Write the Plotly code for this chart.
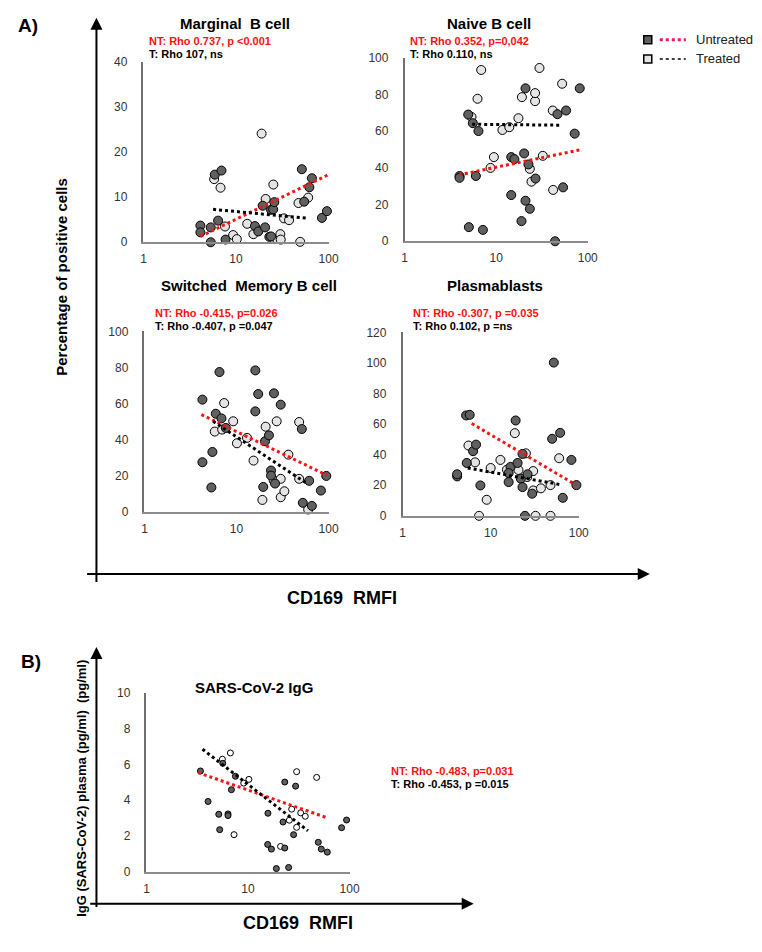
import plotly.graph_objects as go

# figure size and measured page->screenshot mapping (s = offset + k * figure_px)
W, H = 746, 936
KX, OX = 0.982, 9.6
KY, OY = 0.983, 16.2

# ---------------- data ----------------
# Marginal B cell
mz_nt_x = [4.12, 4.12, 5.33, 5.33, 5.9, 6.96, 6.4, 7.7, 16, 17.4, 20.6, 22.9, 23.9, 25.2, 25.9, 23.9, 19.4,
           51.4, 54.5, 66, 62, 84.7, 96]
mz_nt_y = [3.7, 2.2, 0.0, 3.3, 15.0, 15.9, 4.8, 0.6, 3.6, 2.4, 3.3, 1.2, 7.2, 7.3, 8.9, 1.3, 8.1,
           16.2, 9.0, 14.2, 12.2, 5.4, 6.9]
mz_t_x = [5.8, 6.8, 7.6, 9.3, 10.2, 13.2, 15.4, 18.9, 20.9, 25.3, 27.7, 30.1, 30.4, 33, 37.4, 47.3, 49.3, 60.2]
mz_t_y = [14.0, 12.1, 3.5, 1.6, 0.7, 4.1, 1.8, 24.1, 9.6, 12.8, 0.7, 1.8, 0.6, 5.3, 4.9, 8.7, 0.1, 9.9]
mz_trend_nt_x = [4.12, 100]
mz_trend_nt_y = [1.3, 15.0]
mz_trend_t_x = [5.65, 60.7]
mz_trend_t_y = [7.3, 5.3]

# Naive B cell
nv_nt_x = [3.98, 3.98, 5.03, 4.95, 5.56, 6.0, 6.4, 7.16, 14.6, 14.6, 15.8, 18.9, 20.2, 20.9, 20.9, 22.5, 23.3,
           26.9, 44, 46.7, 53.8, 58, 72, 81.8]
nv_nt_y = [35.6, 34.6, 7.7, 69.1, 64.4, 35.6, 60.1, 6.2, 45.9, 25.2, 44.8, 11.0, 47.9, 83.4, 22.1, 41.9, 17.7,
           34.2, 0.0, 69.3, 29.4, 71.3, 58.7, 83.4]
nv_t_x = [5.38, 6.25, 6.86, 8.67, 9.44, 11.7, 13.9, 17.5, 19.1, 23.3, 24.3, 26.6, 26.6, 29.7, 32.3, 41.9, 41.5, 52.5]
nv_t_y = [67.8, 77.7, 93.4, 40.0, 45.9, 60.7, 62.2, 67.1, 78.6, 39.5, 32.5, 76.4, 80.8, 94.5, 46.6, 28.0, 71.3, 85.9]
nv_trend_nt_x = [3.92, 83]
nv_trend_nt_y = [36.2, 49.9]
nv_trend_t_x = [5.47, 50.3]
nv_trend_t_y = [63.8, 63.3]

# Switched Memory B cell
sm_nt_x = [4.26, 4.26, 5.33, 5.47, 5.95, 6.53, 6.86, 7.65, 16, 16, 17.2, 19.5, 20.4, 22.5, 23.7, 23.7, 25.5,
           26.2, 30.2, 51.2, 52.5, 61.5, 65.8, 82.5, 94.4]
sm_nt_y = [62.2, 27.5, 13.5, 33.2, 54.4, 77.5, 51.8, 46.5, 55.7, 78.4, 65.3, 13.8, 39.1, 42.4, 22.9, 20.1, 65.7,
           15.7, 59.4, 45.9, 5.0, 17.2, 3.3, 11.8, 19.9]
sm_t_x = [5.8, 6.98, 7.34, 9.2, 10.1, 13, 15.3, 19.1, 20.7, 25.3, 27.3, 30.2, 30.2, 33.1, 36.6, 47.9, 47.9, 60]
sm_t_y = [44.5, 45.6, 60.3, 50.2, 38.0, 41.0, 28.4, 6.6, 47.2, 17.5, 50.2, 18.3, 8.1, 11.4, 31.7, 49.8, 18.3, 1.3]
sm_trend_nt_x = [4.15, 95.9]
sm_trend_nt_y = [53.9, 20.3]
sm_trend_t_x = [5.56, 56.6]
sm_trend_t_y = [50.2, 16.1]

# Plasmablasts
pb_nt_x = [4.16, 4.16, 5.26, 5.78, 5.35, 6.31, 6.82, 7.64, 16, 16.8, 16, 19.2, 20.2, 22, 23, 23, 24.5, 26.2,
           29.6, 49.9, 52.1, 61.5, 65.9, 82.6, 94.1]
pb_nt_y = [25.8, 27.2, 65.7, 66.1, 34.6, 42.3, 46.6, 19.9, 22.1, 32.0, 28.0, 62.4, 34.6, 24.3, 18.8, 40.5, 0.0,
           27.2, 14.5, 50.4, 100.3, 54.3, 11.8, 36.6, 20.1]
pb_t_x = [5.59, 6.65, 7.38, 9.01, 10, 12.9, 15.3, 18.8, 20.7, 25.1, 26, 30.4, 30.4, 32.3, 37.2, 47.8, 47.8, 59.9]
pb_t_y = [46.0, 35.0, 0.0, 10.5, 31.3, 36.6, 30.2, 54.1, 30.0, 40.9, 25.4, 29.3, 16.6, 0.0, 18.0, 0.0, 20.1, 37.7]
pb_trend_nt_x = [6.09, 94]
pb_trend_nt_y = [60.4, 20.1]
pb_trend_t_x = [5.49, 62.5]
pb_trend_t_y = [31.3, 20.4]

# SARS-CoV-2 IgG
ig_nt_x = [3.4, 4.04, 5.15, 5.26, 5.64, 6.35, 6.35, 6.86, 7.51, 15.7, 15.6, 17, 19, 22.1, 23, 23, 25.1, 28.1,
           29.4, 49.2, 52.6, 60.3, 83.4, 93.4]
ig_nt_y = [5.64, 3.93, 3.21, 2.35, 6.07, 3.23, 3.14, 4.59, 5.34, 3.27, 1.52, 1.26, 0.17, 2.78, 5.02, 1.32, 0.23,
           2.07, 4.79, 1.64, 1.26, 1.09, 2.46, 2.89]
ig_t_x = [5.59, 6.7, 7.28, 9.06, 10.2, 20.9, 25.5, 26.9, 30.1, 30.1, 33, 36.6, 47.4]
ig_t_y = [6.30, 6.65, 2.07, 4.96, 5.17, 1.41, 2.88, 3.5, 5.6, 2.48, 3.29, 3.1, 5.28]
ig_trend_nt_x = [3.22, 59]
ig_trend_nt_y = [5.55, 3.03]
ig_trend_t_x = [3.56, 38.9]
ig_trend_t_y = [6.86, 2.29]

x_tick_vals = [1, 10, 100]
x_tick_text = ["1", "10", "100"]

titles = ["Marginal  B cell", "Naive B cell", "Switched  Memory B cell", "Plasmablasts", "SARS-CoV-2 IgG"]
nt_texts = ["NT: Rho 0.737, p <0.001", "NT: Rho 0.352, p=0,042", "NT: Rho -0.415, p=0.026",
            "NT: Rho -0.307, p =0.035", "NT: Rho -0.483, p=0.031"]
t_texts = ["T: Rho 107, ns", "T: Rho 0.110, ns", "T: Rho -0.407, p =0.047",
           "T: Rho 0.102, p =ns", "T: Rho -0.453, p =0.015"]

# ---------------- layout helpers ----------------
FONT = "Arial, Liberation Sans, sans-serif"
DARK = "#606060"
LIGHT = "#e4e4e4"
RED = "#ff1010"


def px(p):
    return ((p - OX) / KX) / W


def py(p):
    return 1 - ((p - OY) / KY) / H


# target pixel boxes: (left, right, top, bottom)
panels = [
    dict(box=(142, 327, 63, 243), ymax=40, dtick=10, ms=9,
         nt=(mz_nt_x, mz_nt_y), t=(mz_t_x, mz_t_y),
         tr_nt=(mz_trend_nt_x, mz_trend_nt_y), tr_t=(mz_trend_t_x, mz_trend_t_y),
         title_xy=(233, 25), ann_xy=(146, 42), light=LIGHT),
    dict(box=(403, 586, 59, 242), ymax=100, dtick=20, ms=9,
         nt=(nv_nt_x, nv_nt_y), t=(nv_t_x, nv_t_y),
         tr_nt=(nv_trend_nt_x, nv_trend_nt_y), tr_t=(nv_trend_t_x, nv_trend_t_y),
         title_xy=(487, 25), ann_xy=(406, 42), light=LIGHT),
    dict(box=(143, 327, 332, 512), ymax=100, dtick=20, ms=9,
         nt=(sm_nt_x, sm_nt_y), t=(sm_t_x, sm_t_y),
         tr_nt=(sm_trend_nt_x, sm_trend_nt_y), tr_t=(sm_trend_t_x, sm_trend_t_y),
         title_xy=(247, 286), ann_xy=(152, 314), light=LIGHT),
    dict(box=(401, 577, 333, 516), ymax=120, dtick=20, ms=9,
         nt=(pb_nt_x, pb_nt_y), t=(pb_t_x, pb_t_y),
         tr_nt=(pb_trend_nt_x, pb_trend_nt_y), tr_t=(pb_trend_t_x, pb_trend_t_y),
         title_xy=(493, 286), ann_xy=(409, 314), light=LIGHT),
    dict(box=(145, 348, 693, 871), ymax=10, dtick=2, ms=6,
         nt=(ig_nt_x, ig_nt_y), t=(ig_t_x, ig_t_y),
         tr_nt=(ig_trend_nt_x, ig_trend_nt_y), tr_t=(ig_trend_t_x, ig_trend_t_y),
         title_xy=(252, 687), ann_xy=(387, 771), light="#ffffff"),
]

fig = go.Figure()
layout = dict(width=W, height=H, margin=dict(l=0, r=0, t=0, b=0),
              paper_bgcolor="white", plot_bgcolor="white", showlegend=False,
              font=dict(family=FONT, color="#000"))
annotations = []
shapes = []

for i, p in enumerate(panels):
    n = i + 1
    xa = "x" if n == 1 else f"x{n}"
    ya = "y" if n == 1 else f"y{n}"
    l, r, t, b = p["box"]
    layout["xaxis" if n == 1 else f"xaxis{n}"] = dict(
        type="log", range=[0, 2], domain=[px(l), px(r)], anchor=ya,
        tickvals=x_tick_vals, ticktext=x_tick_text, showgrid=False, zeroline=False,
        showline=True, linecolor="#8c8c8c", linewidth=1.5, ticks="",
        ticklabelstandoff=5, tickfont=dict(size=12, color="#333", family=FONT))
    layout["yaxis" if n == 1 else f"yaxis{n}"] = dict(
        range=[0, p["ymax"]], domain=[py(b), py(t)], anchor=xa, dtick=p["dtick"],
        showgrid=False, zeroline=False, showline=True, linecolor="#707070", linewidth=1.5,
        ticks="", ticklabelstandoff=12, tickfont=dict(size=12, color="#333", family=FONT))

    fig.add_trace(go.Scatter(x=p["t"][0], y=p["t"][1], mode="markers", xaxis=xa, yaxis=ya,
                             cliponaxis=False,
                             marker=dict(size=p["ms"], color=p["light"], line=dict(color="#000", width=1))))
    fig.add_trace(go.Scatter(x=p["nt"][0], y=p["nt"][1], mode="markers", xaxis=xa, yaxis=ya,
                             cliponaxis=False,
                             marker=dict(size=p["ms"], color=DARK, line=dict(color="#000", width=1))))
    fig.add_trace(go.Scatter(x=p["tr_nt"][0], y=p["tr_nt"][1], mode="lines", xaxis=xa, yaxis=ya,
                             cliponaxis=False, line=dict(color=RED, width=3, dash="dot")))
    fig.add_trace(go.Scatter(x=p["tr_t"][0], y=p["tr_t"][1], mode="lines", xaxis=xa, yaxis=ya,
                             cliponaxis=False, line=dict(color="#000", width=3, dash="dot")))

    tx, ty = p["title_xy"]
    annotations.append(dict(x=px(tx), y=py(ty), xref="paper", yref="paper", text=f"<b>{titles[i]}</b>",
                            showarrow=False, xanchor="center", yanchor="middle",
                            font=dict(size=15, color="#000", family=FONT)))
    ax_, ay_ = p["ann_xy"]
    annotations.append(dict(x=px(ax_), y=py(ay_), xref="paper", yref="paper", text=f"<b>{nt_texts[i]}</b>",
                            showarrow=False, xanchor="left", yanchor="middle",
                            font=dict(size=11, color=RED, family=FONT)))
    annotations.append(dict(x=px(ax_), y=py(ay_ + 13), xref="paper", yref="paper", text=f"<b>{t_texts[i]}</b>",
                            showarrow=False, xanchor="left", yanchor="middle",
                            font=dict(size=11, color="#000", family=FONT)))


def arrow(tipx, tipy, tailx, taily):
    annotations.append(dict(x=px(tipx), y=py(tipy), xref="paper", yref="paper",
                            ax=(tailx - tipx) / KX, ay=(taily - tipy) / KY, axref="pixel", ayref="pixel",
                            text="", showarrow=True, arrowhead=2, arrowsize=1.2, arrowwidth=2,
                            arrowcolor="#000", standoff=0))


arrow(95, 19, 95, 575)
arrow(648, 574, 94, 574)
arrow(95, 647, 95, 904)
arrow(472, 903, 94, 903)


def label(x, y, text, size, angle=0, anchor="center"):
    annotations.append(dict(x=px(x), y=py(y), xref="paper", yref="paper", text=f"<b>{text}</b>",
                            showarrow=False, xanchor=anchor, yanchor="middle", textangle=angle,
                            font=dict(size=size, color="#000", family=FONT)))


label(27, 27, "A)", 19)
label(30, 661, "B)", 19)
label(60, 277, "Percentage of positive cells", 15, angle=-90)
label(340, 598, "CD169  RMFI", 18)
label(80, 788, "IgG (SARS-CoV-2) plasma (pg/ml)  (pg/ml)", 13, angle=-90)
label(296, 922, "CD169  RMFI", 18)

# legend (drawn manually)
legend_labels = ["Untreated", "Treated"]
legend_rows = [(41, DARK, RED), (60, LIGHT, "#000")]
for (yy, fill, lc), name in zip(legend_rows, legend_labels):
    shapes.append(dict(type="rect", xref="paper", yref="paper", x0=px(642), x1=px(650),
                       y0=py(yy + 4), y1=py(yy - 4), fillcolor=fill, line=dict(color="#000", width=1.5)))
    shapes.append(dict(type="line", xref="paper", yref="paper", x0=px(658), x1=px(684),
                       y0=py(yy), y1=py(yy), line=dict(color="#ff1060" if lc == RED else lc,
                                                       width=3 if lc == RED else 1.5, dash="dot")))
    annotations.append(dict(x=px(692), y=py(yy), xref="paper", yref="paper", text=name, showarrow=False,
                            xanchor="left", yanchor="middle", font=dict(size=13, color="#222", family=FONT)))

layout["annotations"] = annotations
layout["shapes"] = shapes
fig.update_layout(**layout)
fig.write_html("out.html")
